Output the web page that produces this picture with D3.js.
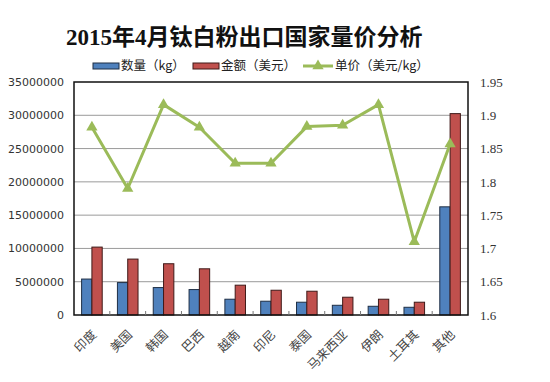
<!DOCTYPE html>
<html><head><meta charset="utf-8">
<script src="https://cdn.jsdelivr.net/npm/d3@7"></script>
<style>body{margin:0;background:#fff}svg{display:block}</style>
</head><body>
<svg id="c" width="550" height="382"></svg>
<script>
const categories = ["印度","美国","韩国","巴西","越南","印尼","泰国","马来西亚","伊朗","土耳其","其他"];
const quantity = [5400000,4870000,4120000,3820000,2370000,2070000,1920000,1460000,1310000,1160000,16250000];
const amount   = [10200000,8400000,7700000,6940000,4480000,3720000,3570000,2670000,2370000,1920000,30250000];
const price    = [1.882,1.790,1.916,1.882,1.828,1.828,1.883,1.885,1.916,1.710,1.857];
const leftTicks = [0,5000000,10000000,15000000,20000000,25000000,30000000,35000000];
const rightTicks = [1.6,1.65,1.7,1.75,1.8,1.85,1.9,1.95];
const seriesNames = ["数量（kg）","金额（美元）","单价（美元/kg）"];
const title = "2015年4月钛白粉出口国家量价分析";

const svg = d3.select("#c");
const L = 74, R = 468, T = 82, B = 315;
const x = d3.scaleBand().domain(categories).range([L, R]);
const yL = d3.scaleLinear().domain([0, 35000000]).range([B, T]);
const yR = d3.scaleLinear().domain([1.6, 1.95]).range([B, T]);

// title
svg.append("text").attr("x", 66).attr("y", 45)
  .attr("font-family", "'Liberation Serif','Noto Sans CJK SC',serif")
  .attr("font-weight", "bold").attr("font-size", 23).attr("fill", "#111")
  .text(title);

// gridlines
svg.append("g").selectAll("line").data(leftTicks.filter(d => d > 0 && d < 35000000)).join("line")
  .attr("x1", L).attr("x2", R).attr("y1", d => yL(d)).attr("y2", d => yL(d))
  .attr("stroke", "#9a9a9a").attr("stroke-width", 1);

// bars
const bw = 10.3;
const g = svg.append("g");
g.selectAll("rect.q").data(categories).join("rect")
  .attr("x", (d) => x(d) + x.bandwidth()/2 - bw)
  .attr("y", (d,i) => yL(quantity[i]))
  .attr("width", bw).attr("height", (d,i) => B - yL(quantity[i]))
  .attr("fill", "#4F81BD").attr("stroke", "#1f2f45").attr("stroke-width", 1);
g.selectAll("rect.a").data(categories).join("rect")
  .attr("x", (d) => x(d) + x.bandwidth()/2)
  .attr("y", (d,i) => yL(amount[i]))
  .attr("width", bw).attr("height", (d,i) => B - yL(amount[i]))
  .attr("fill", "#C0504D").attr("stroke", "#3f1a19").attr("stroke-width", 1);

// line
const line = d3.line().x((d,i) => x(categories[i]) + x.bandwidth()/2).y(d => yR(d));
svg.append("path").datum(price).attr("d", line)
  .attr("fill", "none").attr("stroke", "#9BBB59").attr("stroke-width", 3).attr("stroke-linejoin", "round");
const tri = d3.symbol().type(d3.symbolTriangle).size(55);
svg.append("g").selectAll("path").data(price).join("path")
  .attr("d", tri)
  .attr("transform", (d,i) => `translate(${x(categories[i]) + x.bandwidth()/2},${yR(d)})`)
  .attr("fill", "#9BBB59");

// frame
svg.append("rect").attr("x", L).attr("y", T).attr("width", R - L).attr("height", B - T)
  .attr("fill", "none").attr("stroke", "#111").attr("stroke-width", 1.5);

// axes
const ax = svg.append("g").attr("transform", `translate(${L},0)`)
  .call(d3.axisLeft(yL).tickValues(leftTicks).tickFormat(d3.format("d")).tickSize(0).tickPadding(10));
ax.select(".domain").remove();
ax.selectAll("text").attr("font-family", "'DejaVu Sans',sans-serif").attr("font-size", 11).attr("fill", "#333");

const ar = svg.append("g").attr("transform", `translate(${R},0)`)
  .call(d3.axisRight(yR).tickValues(rightTicks).tickFormat(d => String(+d.toFixed(2))).tickSize(0).tickPadding(12));
ar.select(".domain").remove();
ar.selectAll("text").attr("font-family", "'Liberation Serif',serif").attr("font-size", 13).attr("fill", "#333");

// bottom ticks between categories
svg.append("g").selectAll("line").data(categories.slice(1)).join("line")
  .attr("x1", d => x(d)).attr("x2", d => x(d)).attr("y1", B).attr("y2", B - 4)
  .attr("stroke", "#777");

// category labels
svg.append("g").selectAll("text").data(categories).join("text")
  .attr("transform", d => `translate(${x(d) + x.bandwidth()/2 + 3},${B + 18}) rotate(-45)`)
  .attr("text-anchor", "end").attr("dominant-baseline", "middle")
  .attr("font-family", "'Noto Sans CJK SC',sans-serif").attr("font-size", 12.5).attr("fill", "#444")
  .text(d => d);

// legend
const lg = svg.append("g").attr("font-family", "'Noto Sans CJK SC',sans-serif").attr("font-size", 12.5).attr("fill", "#222");
lg.append("rect").attr("x", 93).attr("y", 63).attr("width", 26).attr("height", 6).attr("fill", "#4F81BD").attr("stroke", "#1f2f45");
lg.append("text").attr("x", 121).attr("y", 67).attr("dominant-baseline", "middle").text(seriesNames[0]);
lg.append("rect").attr("x", 193).attr("y", 63).attr("width", 26).attr("height", 6).attr("fill", "#C0504D").attr("stroke", "#3f1a19");
lg.append("text").attr("x", 221).attr("y", 67).attr("dominant-baseline", "middle").text(seriesNames[1]);
lg.append("line").attr("x1", 303).attr("x2", 333).attr("y1", 66).attr("y2", 66).attr("stroke", "#9BBB59").attr("stroke-width", 3);
lg.append("path").attr("d", tri).attr("transform", "translate(318,66)").attr("fill", "#9BBB59");
lg.append("text").attr("x", 335).attr("y", 67).attr("dominant-baseline", "middle").text(seriesNames[2]);
</script>
</body></html>
